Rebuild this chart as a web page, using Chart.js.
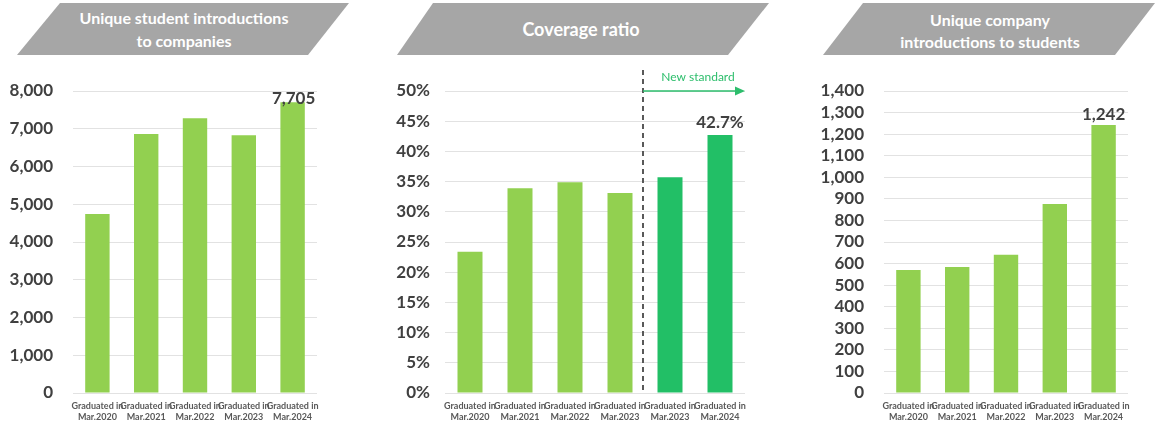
<!DOCTYPE html>
<html>
<head>
<meta charset="utf-8">
<script src="https://cdn.jsdelivr.net/npm/chart.js@4.4.1/dist/chart.umd.min.js"></script>
<style>
  html, body { margin:0; padding:0; background:#fff; }
  body { width:1160px; height:424px; position:relative; overflow:hidden; font-family: Lato, "Open Sans", sans-serif; }
  canvas { position:absolute; top:0; }
  .ttl { position:absolute; background:#A6A6A6; }
  .ttl span { position:absolute; left:0; right:0; color:#fff; text-align:center; white-space:nowrap; font-weight:bold; font-family: Lato, "Open Sans", sans-serif; }
</style>
</head>
<body>
<div class="ttl" id="t1" style="left:17px;top:3px;width:332px;height:52px;clip-path:polygon(43px 0,332px 0,291px 52px,0 52px);">
  <span style="top:4px;font-size:16px;line-height:22px;left:0;width:334px;">Unique student introductions</span>
  <span style="top:27px;font-size:16px;line-height:22px;left:0;width:334px;">to companies</span>
</div>
<div class="ttl" id="t2" style="left:397px;top:3px;width:372px;height:52px;clip-path:polygon(36px 0,372px 0,331px 52px,0 52px);">
  <span style="top:14px;font-size:18px;line-height:24px;left:0;width:368px;">Coverage ratio</span>
</div>
<div class="ttl" id="t3" style="left:823px;top:3px;width:332px;height:52px;clip-path:polygon(40px 0,332px 0,292px 52px,0 52px);">
  <span style="top:6px;font-size:16px;line-height:22px;left:0;width:334px;">Unique company</span>
  <span style="top:28px;font-size:16px;line-height:22px;left:0;width:334px;">introductions to students</span>
</div>

<canvas id="c1" width="340" height="424" style="left:0px;"></canvas>
<canvas id="c2" width="400" height="424" style="left:380px;"></canvas>
<canvas id="c3" width="360" height="424" style="left:800px;"></canvas>

<script>
// ---- data ----
const categories1 = [['Graduated in','Mar.2020'],['Graduated in','Mar.2021'],['Graduated in','Mar.2022'],['Graduated in','Mar.2023'],['Graduated in','Mar.2024']];
const studentIntroductions = [4740, 6860, 7280, 6830, 7705];
const studentTicks = { min: 0, max: 8000, step: 1000 };

const categories2 = [['Graduated in','Mar.2020'],['Graduated in','Mar.2021'],['Graduated in','Mar.2022'],['Graduated in','Mar.2023'],['Graduated in','Mar.2023'],['Graduated in','Mar.2024']];
const coverageRatio = [23.4, 33.9, 34.9, 33.1, 35.7, 42.7];
const coverageIsNewStandard = [false, false, false, false, true, true];
const coverageTicks = { min: 0, max: 50, step: 5 };
const newStandardLabel = 'New standard';

const categories3 = [['Graduated in','Mar.2020'],['Graduated in','Mar.2021'],['Graduated in','Mar.2022'],['Graduated in','Mar.2023'],['Graduated in','Mar.2024']];
const companyIntroductions = [570, 584, 641, 876, 1242];
const companyTicks = { min: 0, max: 1400, step: 100 };

// ---- styling ----
const LIGHT = '#92D050';
const DARK = '#22BF66';
const TXT = '#404040';
const GRID = '#E2E2E2';
const FONT = 'Lato, "Open Sans", sans-serif';

const valueLabelPlugin = {
  id: 'valueLabel',
  afterDatasetsDraw(chart, args, opts) {
    if (!opts || opts.index === undefined) return;
    const meta = chart.getDatasetMeta(0);
    const bar = meta.data[opts.index];
    const ctx = chart.ctx;
    ctx.save();
    ctx.font = 'bold 17px ' + FONT;
    ctx.fillStyle = TXT;
    ctx.textAlign = 'center';
    ctx.textBaseline = 'alphabetic';
    ctx.fillText(opts.text, bar.x + (opts.dx || 0), bar.y + opts.offset);
    ctx.restore();
  }
};

const newStandardPlugin = {
  id: 'newStandard',
  afterDatasetsDraw(chart, args, opts) {
    if (!opts || !opts.enabled) return;
    const xs = chart.scales.x, ys = chart.scales.y, ca = chart.chartArea, ctx = chart.ctx;
    const x = (xs.getPixelForValue(3) + xs.getPixelForValue(4)) / 2 - 2;
    const yTop = ca.top - 21;
    const yArrow = ys.getPixelForValue(coverageTicks.max);
    ctx.save();
    ctx.strokeStyle = '#595959';
    ctx.lineWidth = 2;
    ctx.setLineDash([5, 4]);
    ctx.beginPath();
    ctx.moveTo(x, yTop);
    ctx.lineTo(x, ca.bottom);
    ctx.stroke();
    ctx.setLineDash([]);
    ctx.strokeStyle = '#2DBE6C';
    ctx.fillStyle = '#2DBE6C';
    ctx.lineWidth = 1.5;
    const xEnd = ca.right;
    ctx.beginPath();
    ctx.moveTo(x, yArrow);
    ctx.lineTo(xEnd - 8, yArrow);
    ctx.stroke();
    ctx.beginPath();
    ctx.moveTo(xEnd, yArrow);
    ctx.lineTo(xEnd - 10, yArrow - 4.5);
    ctx.lineTo(xEnd - 10, yArrow + 4.5);
    ctx.closePath();
    ctx.fill();
    ctx.font = '12px ' + FONT;
    ctx.textAlign = 'center';
    ctx.textBaseline = 'middle';
    ctx.fillText(newStandardLabel, x + 55, yArrow - 14);
    ctx.restore();
  }
};

function makeChart(id, labels, data, colors, ticks, fmt, yWidth, rightPad, yPad, extra) {
  return new Chart(document.getElementById(id), {
    type: 'bar',
    data: {
      labels: labels,
      datasets: [{
        data: data,
        backgroundColor: colors,
        borderWidth: 0,
        categoryPercentage: 1.0,
        barPercentage: 0.5
      }]
    },
    options: {
      responsive: false,
      animation: false,
      devicePixelRatio: 1,
      layout: { padding: { top: 91, right: rightPad, left: 0, bottom: 0 } },
      plugins: Object.assign({ legend: { display: false }, tooltip: { enabled: false } }, extra),
      scales: {
        x: {
          grid: { display: false },
          border: { display: false },
          ticks: {
            autoSkip: false, maxRotation: 0, minRotation: 0,
            color: '#595959',
            font: { family: FONT, size: 9, weight: 'bold', lineHeight: 1.2 },
            padding: 0
          },
          afterFit(scale) { scale.height = 31; }
        },
        y: {
          min: ticks.min, max: ticks.max,
          grid: { color: GRID, lineWidth: 1, drawTicks: false },
          border: { display: false },
          ticks: {
            stepSize: ticks.step,
            autoSkip: false,
            color: TXT,
            padding: yPad,
            font: { family: FONT, size: 17, weight: 'bold' },
            callback: fmt
          },
          afterFit(scale) { scale.width = yWidth; }
        }
      }
    },
    plugins: [valueLabelPlugin, newStandardPlugin]
  });
}

const num = v => v.toLocaleString('en-US');
const pct = v => v + '%';

makeChart('c1', categories1, studentIntroductions, studentIntroductions.map(() => LIGHT),
  studentTicks, num, 73, 23, 20,
  { valueLabel: { index: 4, text: num(studentIntroductions[4]), offset: 2, dx: 1 } });

makeChart('c2', categories2, coverageRatio, coverageIsNewStandard.map(n => n ? DARK : LIGHT),
  coverageTicks, pct, 65, 35, 15,
  { valueLabel: { index: 5, text: coverageRatio[5].toFixed(1) + '%', offset: -7, dx: 0 },
    newStandard: { enabled: true } });

makeChart('c3', categories3, companyIntroductions, companyIntroductions.map(() => LIGHT),
  companyTicks, num, 84, 32, 20,
  { valueLabel: { index: 4, text: num(companyIntroductions[4]), offset: -5, dx: 0 } });
</script>
</body>
</html>
